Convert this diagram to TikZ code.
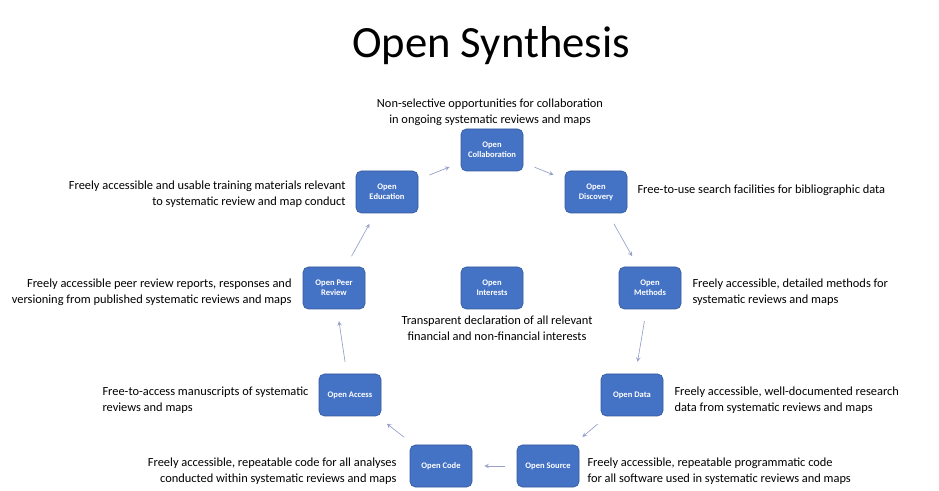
\documentclass[tikz,border=0pt]{standalone}
\usepackage{fontspec}
\setmainfont{Carlito}
\definecolor{boxblue}{RGB}{68,114,196}
\definecolor{arrowgrey}{RGB}{150,160,200}
\tikzset{every picture/.style={line width=0.75pt}}
\tikzset{
  stage/.style={fill=boxblue, draw=boxblue!80!black, line width=0.5pt, rounded corners=4pt,
    minimum width=46.5pt, minimum height=31.5pt, align=center, text=white,
    font=\fontsize{6.4}{7.5}\selectfont\bfseries},
  note/.style={inner sep=0.75pt, font=\fontsize{9.3}{12}\selectfont},
  flow/.style={->, >=stealth, draw=arrowgrey, line width=0.5pt, shorten >=9pt, shorten <=9pt}
}
\begin{document}
\begin{tikzpicture}[x=0.75pt,y=0.75pt,yscale=-1,xscale=1]
\useasboundingbox (0,0) rectangle (939,491);

% Title
\node (title) at (491,46) {\fontsize{33.5}{40}\selectfont Open Synthesis};

% Stages
\node[stage] (collab) at (492,150) {Open\\Collaboration};
\node[stage] (educ) at (387,192) {Open\\Education};
\node[stage] (disc) at (596,192) {Open\\Discovery};
\node[stage] (meth) at (650,288) {Open\\Methods};
\node[stage] (data) at (632,395) {Open Data};
\node[stage] (source) at (548,466) {Open Source};
\node[stage] (code) at (441,466) {Open Code};
\node[stage] (access) at (350,395) {Open Access};
\node[stage] (peer) at (334,288) {Open Peer\\Review};
\node[stage] (inter) at (492,288) {Open\\Interests};

% Cycle
\draw[flow] (educ) -- (collab);
\draw[flow] (collab) -- (disc);
\draw[flow] (disc) -- (meth);
\draw[flow] (meth) -- (data);
\draw[flow] (data) -- (source);
\draw[flow] (source) -- (code);
\draw[flow] (code) -- (access);
\draw[flow] (access) -- (peer);
\draw[flow] (peer) -- (educ);

% Descriptions
\node[note, align=center] (tcollab) at (490,112) {Non-selective opportunities for collaboration\\in ongoing systematic reviews and maps};
\node[note, align=right, anchor=east] (teduc) at (347,194) {Freely accessible and usable training materials relevant\\to systematic review and map conduct};
\node[note, anchor=west] (tdisc) at (636,190) {Free-to-use search facilities for bibliographic data};
\node[note, align=left, anchor=west] (tmeth) at (691,292) {Freely accessible, detailed methods for\\systematic reviews and maps};
\node[note, align=center] (tinter) at (497,328) {Transparent declaration of all relevant\\financial and non-financial interests};
\node[note, align=left, anchor=west] (tdata) at (673,400) {Freely accessible, well-documented research\\data from systematic reviews and maps};
\node[note, align=left, anchor=west] (tsource) at (586,471) {Freely accessible, repeatable programmatic code\\ for all software used in systematic reviews and maps};
\node[note, align=right, anchor=east] (tcode) at (398,471) {Freely accessible, repeatable code for all analyses\\conducted within systematic reviews and maps};
\node[note, align=left, anchor=west] (taccess) at (101,400) {Free-to-access manuscripts of systematic\\reviews and maps};
\node[note, align=right, anchor=east] (tpeer) at (293,292) {Freely accessible peer review reports, responses and\\versioning from published systematic reviews and maps};

\end{tikzpicture}
\end{document}
